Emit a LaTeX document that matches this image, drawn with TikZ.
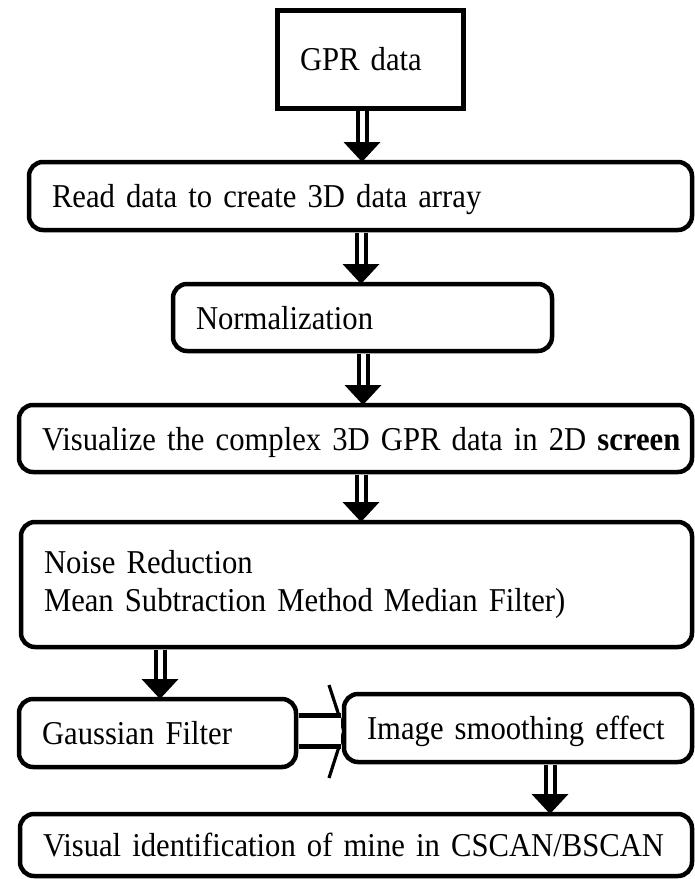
\documentclass[tikz,border=0pt]{standalone}
\usepackage{fontspec}
\setmainfont[WordSpace=0.85, FakeStretch=0.92]{Liberation Serif}
\usetikzlibrary{arrows.meta}
\newdimen\upx \upx=0.75pt

\begin{document}
\begin{tikzpicture}[x=0.75pt,y=-0.75pt,
    flow/.style={draw, line width=4.5\upx, rounded corners=14\upx, inner xsep=23\upx, inner ysep=0pt,
        outer sep=0pt, align=left, anchor=north west, text depth=0pt, font=\fontsize{25}{29}\selectfont},
    dblarrow/.style={line width=3pt, double=white, double distance=3.75pt, shorten <=1.9pt,
        -{Triangle[width=27pt,length=15pt]}}]
\useasboundingbox (0,0) rectangle (695,879);

% boxes
\node[flow, sharp corners, line width=5\upx, text width=140\upx, minimum height=98\upx] (gpr) at (277,10) {GPR data};
\node[flow, text width=617\upx, minimum height=68\upx] (read) at (29,162) {Read data to create 3D data array};
\node[flow, text width=333\upx, minimum height=67\upx] (norm) at (173,284) {Normalization};
\node[flow, text width=627\upx, minimum height=67\upx] (vis) at (19,405) {\mbox{Visualize the complex 3D GPR data in 2D \textbf{screen}}};
\node[flow, text depth=, text width=625\upx, minimum height=125\upx] (noise) at (21,522) {Noise Reduction\\Mean Subtraction Method Median Filter)};
\node[flow, text width=231\upx, minimum height=68\upx] (gauss) at (19,699) {Gaussian Filter};
\node[flow, text width=302\upx, minimum height=68\upx] (smooth) at (344,694) {\mbox{Image smoothing effect}};
\node[flow, text width=626\upx, minimum height=62\upx] (visual) at (20,814) {\mbox{Visual identification of mine in CSCAN/BSCAN}};

% block arrows
\draw[dblarrow] (gpr.south -| 362,0) -- (read.north -| 362,0);
\draw[dblarrow] (read.south -| 361,0) -- (norm.north -| 361,0);
\draw[dblarrow] (norm.south -| 363,0) -- (vis.north -| 363,0);
\draw[dblarrow] (vis.south -| 361,0) -- (noise.north -| 361,0);
\draw[dblarrow] (noise.south -| 160,0) -- (gauss.north -| 160,0);
\draw[dblarrow] (smooth.south -| 550,0) -- (visual.north -| 550,0);

% sideways arrow
\draw[line width=2.4pt] (smooth.west |- 0,731) ++(-15,-46) -- ++(15,46) -- ++(-15,47);
\draw[line width=3.75pt, double=white, double distance=20pt, shorten <=1.9pt, shorten >=1.9pt]
    (gauss.east |- 0,731) -- (smooth.west |- 0,731);
\end{tikzpicture}
\end{document}
